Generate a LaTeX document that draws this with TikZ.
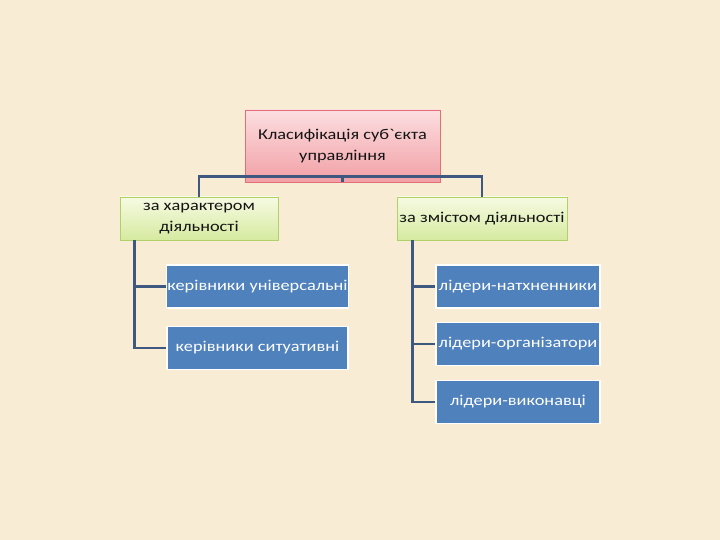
\documentclass[tikz,border=0pt]{standalone}
\usepackage{fontspec}
\setmainfont[FakeStretch=1.22, Ligatures=TeXOff]{Carlito}
\definecolor{bgc}{RGB}{249,236,212}
\definecolor{linec}{RGB}{62,88,128}
\definecolor{bluec}{RGB}{79,129,189}
\definecolor{pinktop}{RGB}{252,222,224}
\definecolor{pinkbot}{RGB}{241,160,166}
\definecolor{pinkbd}{RGB}{226,110,118}
\definecolor{greentop}{RGB}{246,250,226}
\definecolor{greenbot}{RGB}{214,234,160}
\definecolor{greenbd}{RGB}{176,208,104}
\definecolor{textc}{RGB}{20,20,20}
\begin{document}
\begin{tikzpicture}[x=1pt,y=-1pt,
  every node/.style={font=\fontsize{15}{20.5}\selectfont, align=center, inner sep=1pt},
  topbox/.style={draw=pinkbd, line width=0.8pt, top color=pinktop, bottom color=pinkbot, text=textc, minimum width=195pt, minimum height=72pt},
  midbox/.style={draw=greenbd, line width=0.8pt, top color=greentop, bottom color=greenbot, text=textc, minimum height=43pt},
  leafbox/.style={draw=white, line width=1.5pt, fill=bluec, text=white, minimum height=43pt},
  conn/.style={draw=linec, line width=2.3pt}]
\fill[bgc] (0,0) rectangle (720,540);
\useasboundingbox (0,0) rectangle (720,540);
\node[topbox] (top) at (342.5,146) {Класифікація суб`єкта\\управління};
\node[midbox, minimum width=158pt] (lm) at (199,218.5) {за характером\\діяльності};
\node[midbox, minimum width=170pt] (rm) at (482,218.5) {за змістом діяльності};
\node[leafbox, minimum width=181pt] (l1) at (257.5,286.5) {керівники універсальні};
\node[leafbox, minimum width=181pt] (l2) at (257.5,348) {керівники ситуативні};
\node[leafbox, minimum width=164pt] (r1) at (518,286.5) {лідери-натхненники};
\node[leafbox, minimum width=164pt] (r2) at (518,344) {лідери-організатори};
\node[leafbox, minimum width=164pt] (r3) at (518,402) {лідери-виконавці};
\coordinate (hub) at ([yshift=6pt]top.south);
\draw[conn] (top.south) -- (hub) -| (lm.north);
\draw[conn] (hub) -| (rm.north);
\coordinate (lx) at ([xshift=15pt]lm.south west);
\coordinate (rx) at ([xshift=16pt]rm.south west);
\draw[conn] (lx) |- (l1.west);
\draw[conn] (lx) |- (l2.west);
\draw[conn] (rx) |- (r1.west);
\draw[conn] (rx) |- (r2.west);
\draw[conn] (rx) |- (r3.west);
\end{tikzpicture}
\end{document}
